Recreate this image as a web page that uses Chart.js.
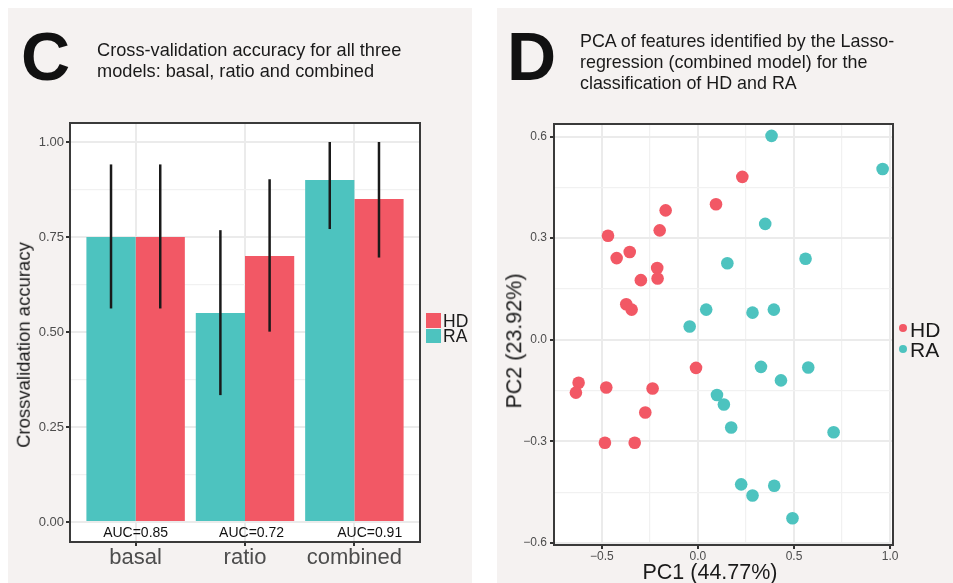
<!DOCTYPE html>
<html>
<head>
<meta charset="utf-8">
<script src="https://cdn.jsdelivr.net/npm/chart.js@4.4.0/dist/chart.umd.min.js"></script>
<style>
  body { margin: 0; width: 953px; height: 583px; overflow: hidden; background: #fff; position: relative;
         font-family: "Liberation Sans", Arial, sans-serif; color: #1a1a1a; }
  .panel { position: absolute; background: #f5f2f1; }
  .abs { position: absolute; white-space: nowrap; line-height: 1; }
  .title { position: absolute; font-size: 18px; line-height: 20.8px; white-space: nowrap; }
  .letter { font-weight: bold; font-size: 68px; color: #111; }
  .rot { transform: translate(-50%, -50%) rotate(-90deg); }
  canvas { position: absolute; top: 0; }
</style>
</head>
<body>
<div class="panel" style="left:8px; top:8px; width:464px; height:575px;"></div>
<div class="panel" style="left:497px; top:8px; width:456px; height:575px;"></div>

<canvas id="accChart" width="480" height="583" style="left:0;"></canvas>
<canvas id="pcaChart" width="473" height="583" style="left:480px;"></canvas>

<div class="abs letter" style="left:21px; top:22px;">C</div>
<div class="title" style="left:97px; top:40px; font-size:18.2px;">Cross-validation accuracy for all three<br>models: basal, ratio and combined</div>
<div class="abs letter" style="left:507px; top:22px;">D</div>
<div class="title" style="left:580px; top:31px; font-size:17.9px;">PCA of features identified by the Lasso-<br>regression (combined model) for the<br>classification of HD and RA</div>

<div class="abs rot" style="left:24px; top:345px; font-size:18.5px;">Crossvalidation accuracy</div>
<div class="abs rot" style="left:515px; top:341px; font-size:21.5px;">PC2 (23.92%)</div>
<div class="abs" style="left:710px; top:562px; font-size:21.5px; transform:translateX(-50%);">PC1 (44.77%)</div>

<!-- legend, panel C -->
<div class="abs" style="left:426px; top:313px; width:15px; height:14.5px; background:#f25865;"></div>
<div class="abs" style="left:426px; top:328.5px; width:15px; height:14.5px; background:#4dc3bf;"></div>
<div class="abs" style="left:443px; top:313px; font-size:17.5px;">HD</div>
<div class="abs" style="left:443px; top:328px; font-size:17.5px;">RA</div>

<!-- legend, panel D -->
<div class="abs" style="left:899px; top:324px; width:8px; height:8px; border-radius:50%; background:#f25865;"></div>
<div class="abs" style="left:899px; top:345px; width:8px; height:8px; border-radius:50%; background:#4dc3bf;"></div>
<div class="abs" style="left:910px; top:319px; font-size:21px;">HD</div>
<div class="abs" style="left:910px; top:339px; font-size:21px;">RA</div>

<script>
const HD_COLOR = "#f25865";
const RA_COLOR = "#4dc3bf";

// panel C: cross-validation accuracy
const models = ["basal", "ratio", "combined"];
const accRA = [0.75, 0.55, 0.90];
const accHD = [0.75, 0.70, 0.85];
const raLow = [0.562, 0.334, 0.771];
const raHigh = [0.941, 0.768, 1.0];
const hdLow = [0.562, 0.501, 0.696];
const hdHigh = [0.941, 0.902, 1.0];
const aucLabels = ["AUC=0.85", "AUC=0.72", "AUC=0.91"];
const accTicks = [0, 0.25, 0.5, 0.75, 1];
const accTickLabels = ["0.00", "0.25", "0.50", "0.75", "1.00"];
const accMinor = [0.125, 0.375, 0.625, 0.875];

// panel D: PCA scores
const hdPC1 = [0.231, 0.094, -0.168, -0.199, -0.468, -0.355, -0.423, -0.212, -0.210, -0.297,
               -0.373, -0.345, -0.010, -0.621, -0.635, -0.477, -0.236, -0.274, -0.484, -0.329];
const hdPC2 = [0.481, 0.400, 0.382, 0.323, 0.307, 0.259, 0.241, 0.212, 0.181, 0.176,
               0.105, 0.089, -0.083, -0.127, -0.156, -0.141, -0.144, -0.215, -0.304, -0.304];
const raPC1 = [0.383, 0.961, 0.350, 0.153, 0.560, 0.043, -0.043, 0.284, 0.395, 0.328,
               0.574, 0.432, 0.099, 0.135, 0.173, 0.706, 0.225, 0.284, 0.397, 0.492];
const raPC2 = [0.602, 0.504, 0.342, 0.226, 0.239, 0.089, 0.039, 0.080, 0.089, -0.080,
               -0.082, -0.120, -0.163, -0.191, -0.259, -0.273, -0.427, -0.460, -0.431, -0.527];
const pc1Ticks = [-0.5, 0, 0.5, 1];
const pc1TickLabels = ["\u22120.5", "0.0", "0.5", "1.0"];
const pc1Minor = [-0.25, 0.25, 0.75];
const pc2Ticks = [-0.6, -0.3, 0, 0.3, 0.6];
const pc2TickLabels = ["\u22120.6", "\u22120.3", "0.0", "0.3", "0.6"];
const pc2Minor = [-0.45, -0.15, 0.15, 0.45];

Chart.defaults.font.family = "'Liberation Sans', Arial, sans-serif";

// ggplot-like axis: major lines with labels, fainter minor lines without
function gridAxis(major, minor, labels, font, padding, extra) {
  const isMajor = (v) => major.includes(v);
  return Object.assign({
    type: "linear",
    offset: false,
    border: { display: false },
    afterBuildTicks: (scale) => {
      scale.ticks = major.concat(minor).sort((a, b) => a - b).map((v) => ({ value: v }));
    },
    grid: {
      offset: false,
      color: (c) => (isMajor(c.tick.value) ? "#ebebeb" : "#f1f1f1"),
      lineWidth: (c) => (isMajor(c.tick.value) ? 2 : 1.2),
      tickColor: (c) => (isMajor(c.tick.value) ? "#333333" : "rgba(0,0,0,0)"),
      tickLength: 4,
    },
    ticks: {
      autoSkip: false,
      maxRotation: 0,
      color: "#4d4d4d",
      font: font,
      padding: padding,
      callback: (value) => {
        const i = major.indexOf(value);
        return i >= 0 ? labels[i] : "";
      },
    },
  }, extra);
}

const framePlugin = {
  id: "frame",
  beforeDraw(chart) {
    const { ctx, chartArea: a } = chart;
    ctx.save();
    ctx.fillStyle = "#ffffff";
    ctx.fillRect(a.left, a.top, a.width, a.height);
    ctx.restore();
  },
  afterDraw(chart) {
    const { ctx, chartArea: a } = chart;
    ctx.save();
    ctx.strokeStyle = "#3a3a3a";
    ctx.lineWidth = 2;
    ctx.strokeRect(a.left, a.top, a.width, a.height);
    ctx.restore();
  },
};

const errorBars = {
  id: "errorBars",
  afterDatasetsDraw(chart) {
    const { ctx } = chart;
    const y = chart.scales.y;
    const ranges = [[raLow, raHigh], [hdLow, hdHigh]];
    ctx.save();
    ctx.strokeStyle = "#1a1a1a";
    ctx.lineWidth = 2.5;
    ranges.forEach(([lo, hi], d) => {
      chart.getDatasetMeta(d).data.forEach((bar, i) => {
        ctx.beginPath();
        ctx.moveTo(bar.x, y.getPixelForValue(lo[i]));
        ctx.lineTo(bar.x, y.getPixelForValue(hi[i]));
        ctx.stroke();
      });
    });
    // AUC labels just under the bars
    const x = chart.scales.x;
    const nudge = [0, 0.06, 0.14];
    ctx.fillStyle = "#111";
    ctx.font = "14px 'Liberation Sans', Arial, sans-serif";
    ctx.textAlign = "center";
    ctx.textBaseline = "alphabetic";
    aucLabels.forEach((t, i) => {
      ctx.fillText(t, x.getPixelForValue(i + 1 + nudge[i]), y.getPixelForValue(0) + 15);
    });
    ctx.restore();
  },
};

new Chart(document.getElementById("accChart"), {
  type: "bar",
  data: {
    datasets: [
      { label: "RA", data: accRA.map((v, i) => ({ x: i + 1, y: v })), backgroundColor: RA_COLOR },
      { label: "HD", data: accHD.map((v, i) => ({ x: i + 1, y: v })), backgroundColor: HD_COLOR },
    ],
  },
  options: {
    responsive: false,
    animation: false,
    layout: { padding: { left: 0, right: 60, top: 123, bottom: 11 } },
    datasets: { bar: { categoryPercentage: 0.9, barPercentage: 1.0, borderWidth: 0 } },
    scales: {
      x: gridAxis([1, 2, 3], [], models, { size: 22, lineHeight: 1 }, 1, {
        min: 0.4, max: 3.6,
        afterFit: (s) => { s.height = 30; },
      }),
      y: gridAxis(accTicks, accMinor, accTickLabels, { size: 13 }, 2, {
        min: -0.0525, max: 1.05,
        afterFit: (s) => { s.width = 70; },
      }),
    },
    plugins: { legend: { display: false }, tooltip: { enabled: false } },
  },
  plugins: [framePlugin, errorBars],
});

new Chart(document.getElementById("pcaChart"), {
  type: "scatter",
  data: {
    datasets: [
      { label: "HD", data: hdPC1.map((v, i) => ({ x: v, y: hdPC2[i] })), backgroundColor: HD_COLOR },
      { label: "RA", data: raPC1.map((v, i) => ({ x: v, y: raPC2[i] })), backgroundColor: RA_COLOR },
    ],
  },
  options: {
    responsive: false,
    animation: false,
    layout: { padding: { left: 0, right: 60, top: 124, bottom: 8 } },
    elements: { point: { radius: 6.3, borderWidth: 0 } },
    scales: {
      x: gridAxis(pc1Ticks, pc1Minor, pc1TickLabels, { size: 12, lineHeight: 1 }, 2, {
        min: -0.749, max: 1.015,
        afterFit: (s) => { s.height = 30; },
      }),
      y: gridAxis(pc2Ticks, pc2Minor, pc2TickLabels, { size: 12 }, 3, {
        min: -0.606, max: 0.637,
        afterFit: (s) => { s.width = 74; },
      }),
    },
    plugins: { legend: { display: false }, tooltip: { enabled: false } },
  },
  plugins: [framePlugin],
});
</script>
</body>
</html>
